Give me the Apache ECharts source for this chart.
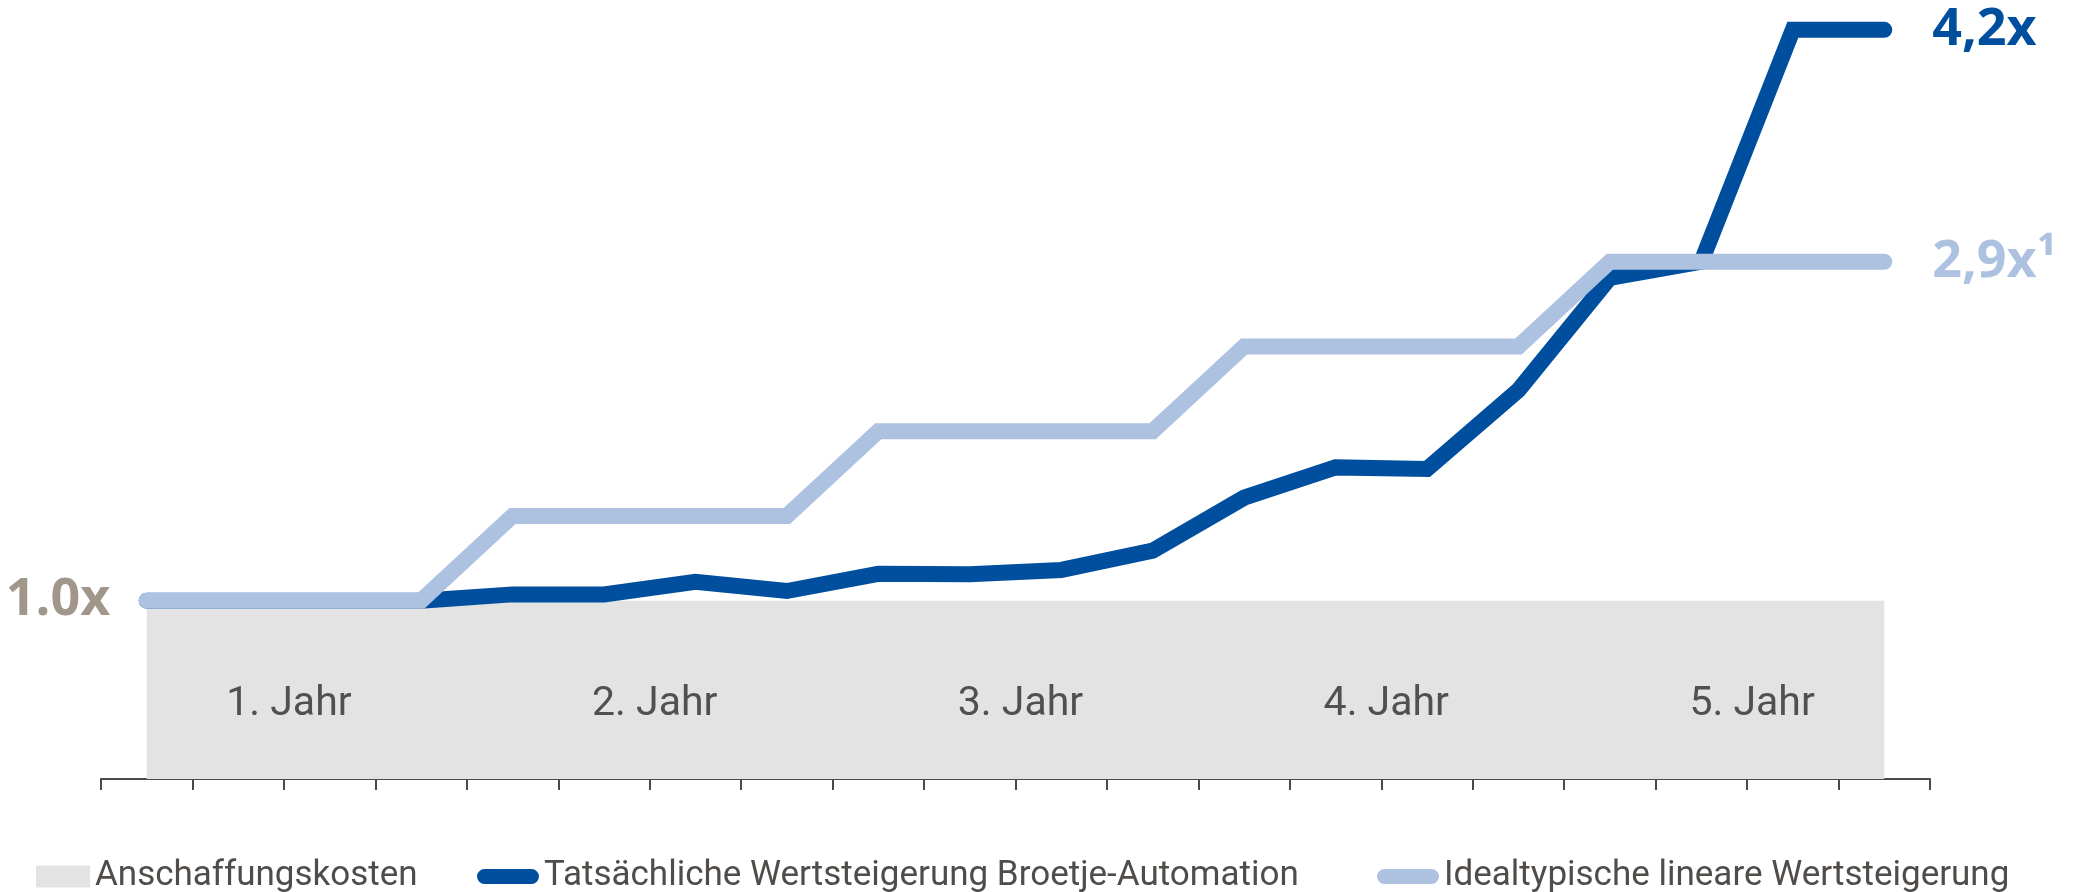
<!DOCTYPE html>
<html>
<head>
<meta charset="utf-8">
<title>Wertsteigerung</title>
<script src="https://cdn.jsdelivr.net/npm/echarts@6/dist/echarts.min.js"></script>
<style>
  html, body { margin: 0; padding: 0; background: #fff; }
  #chart { width: 2076px; height: 892px; }
</style>
</head>
<body>
<div id="chart"></div>
<script>
// 20 steps over 5 years (4 per year)
const steps = Array.from({ length: 20 }, (_, i) => 'S' + (i + 1));
const years = ['1. Jahr', '2. Jahr', '3. Jahr', '4. Jahr', '5. Jahr'];

const baseCost = [1, 1, 1, 1, 1, 1, 1, 1, 1, 1, 1, 1, 1, 1, 1, 1, 1, 1, 1, 1];
const actualValue = [1.0, 1.0, 1.0, 1.0, 1.035, 1.035, 1.105, 1.054, 1.15, 1.148,
                     1.172, 1.28, 1.577, 1.747, 1.738, 2.18, 2.81, 2.9, 4.2, 4.2];
const idealValue = [1.0, 1.0, 1.0, 1.0, 1.475, 1.475, 1.475, 1.475, 1.95, 1.95,
                    1.95, 1.95, 2.425, 2.425, 2.425, 2.425, 2.9, 2.9, 2.9, 2.9];

const names = ['Anschaffungskosten', 'Tatsächliche Wertsteigerung Broetje-Automation', 'Idealtypische lineare Wertsteigerung'];
const labels = { base: '1.0x', actual: '4,2x', ideal: '2,9x¹' };

const darkBlue = '#004f9f';
const lightBlue = '#adc1e1';
const grey = '#e3e3e3';
const textGrey = '#4f4c49';
const thin = "Roboto, 'Liberation Sans', sans-serif";
const bold = "'Open Sans', 'Liberation Sans', sans-serif";

const pill = 'path://M7.5,0 L54.5,0 A7.5,7.5 0 0 1 54.5,15 L7.5,15 A7.5,7.5 0 0 1 7.5,0 Z';

const chart = echarts.init(document.getElementById('chart'));

const legendText = { color: textGrey, fontSize: 35, fontFamily: thin };

const option = {
    animation: false,
    grid: { left: 101, right: 146, top: 12, bottom: 113 },
    xAxis: [
        {
            type: 'category',
            data: steps,
            boundaryGap: true,
            axisLine: { lineStyle: { color: '#4a4a4a', width: 2 } },
            axisTick: { show: true, interval: 0, length: 11, lineStyle: { color: '#4a4a4a', width: 2 } },
            axisLabel: { show: false }
        },
        {
            // year labels sit inside the grey block, above the area series
            type: 'category',
            data: years,
            position: 'bottom',
            boundaryGap: true,
            z: 10,
            axisLine: { show: false },
            axisTick: { show: false },
            axisLabel: {
                inside: true,
                margin: 54,
                padding: [0, 0, 0, 10],
                color: '#505050',
                fontSize: 41,
                fontFamily: thin
            }
        }
    ],
    yAxis: {
        type: 'value',
        min: 0,
        max: 4.3,
        show: false,
        splitLine: { show: false }
    },
    legend: [
        {
            left: 31, top: 854,
            itemWidth: 54, itemHeight: 22,
            textStyle: legendText,
            data: [{ name: names[0], icon: 'rect', itemStyle: { color: grey } }]
        },
        {
            left: 472, top: 854,
            itemWidth: 62, itemHeight: 15,
            textStyle: legendText,
            data: [{ name: names[1], icon: pill, itemStyle: { color: darkBlue } }]
        },
        {
            left: 1372, top: 854,
            itemWidth: 62, itemHeight: 15,
            textStyle: legendText,
            data: [{ name: names[2], icon: pill, itemStyle: { color: lightBlue } }]
        }
    ],
    series: [
        {
            name: names[0],
            type: 'line',
            data: baseCost,
            symbol: 'none',
            lineStyle: { width: 0 },
            itemStyle: { color: grey },
            areaStyle: { color: grey, opacity: 1 },
            markPoint: {
                symbol: 'circle',
                symbolSize: 1,
                itemStyle: { color: 'rgba(0,0,0,0)' },
                label: {
                    show: true,
                    position: 'left',
                    distance: 36,
                    formatter: labels.base,
                    color: '#a0968a',
                    fontSize: 52,
                    fontWeight: 'bold',
                    fontFamily: bold
                },
                data: [{ coord: [0, 1] }]
            }
        },
        {
            name: names[1],
            type: 'line',
            data: actualValue,
            symbol: 'none',
            itemStyle: { color: darkBlue },
            lineStyle: { color: darkBlue, width: 16, cap: 'round', join: 'miter' },
            endLabel: {
                show: true,
                distance: 48,
                formatter: labels.actual,
                color: darkBlue,
                fontSize: 52,
                fontWeight: 'bold',
                fontFamily: bold
            }
        },
        {
            name: names[2],
            type: 'line',
            data: idealValue,
            symbol: 'none',
            itemStyle: { color: lightBlue },
            lineStyle: { color: lightBlue, width: 16, cap: 'round', join: 'miter' },
            endLabel: {
                show: true,
                distance: 48,
                formatter: labels.ideal,
                color: lightBlue,
                fontSize: 52,
                fontWeight: 'bold',
                fontFamily: bold
            }
        }
    ]
};

chart.setOption(option);
window.addEventListener('resize', chart.resize);
</script>
</body>
</html>
